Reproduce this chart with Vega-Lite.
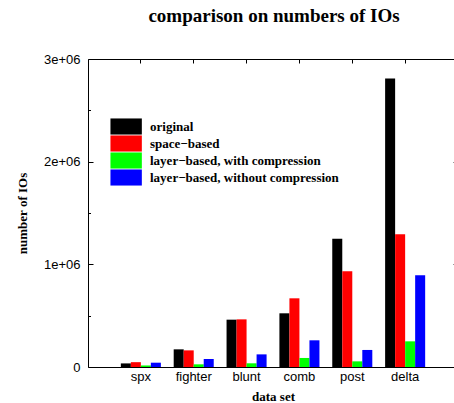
{
  "$schema": "https://vega.github.io/schema/vega-lite/v6.json",
  "width": 366,
  "height": 308,
  "autosize": {"type": "none"},
  "padding": {"left": 88, "top": 59, "right": 0, "bottom": 36},
  "background": "white",
  "title": {
    "text": "comparison on numbers of IOs",
    "font": "Liberation Serif",
    "fontSize": 19,
    "fontWeight": "bold",
    "color": "black",
    "anchor": "middle",
    "frame": "group",
    "baseline": "alphabetic",
    "offset": 12,
    "dx": 3
  },
  "config": {
    "view": {"stroke": null},
    "axis": {"grid": false, "domainColor": "black", "tickColor": "black", "domainWidth": 1, "tickWidth": 1}
  },
  "data": {
    "values": [
      {"set": "spx", "method": "original", "ios": 35000},
      {"set": "spx", "method": "space−based", "ios": 47000},
      {"set": "spx", "method": "layer−based, with compression", "ios": 15000},
      {"set": "spx", "method": "layer−based, without compression", "ios": 42000},
      {"set": "fighter", "method": "original", "ios": 172000},
      {"set": "fighter", "method": "space−based", "ios": 162000},
      {"set": "fighter", "method": "layer−based, with compression", "ios": 26000},
      {"set": "fighter", "method": "layer−based, without compression", "ios": 78000},
      {"set": "blunt", "method": "original", "ios": 461000},
      {"set": "blunt", "method": "space−based", "ios": 464000},
      {"set": "blunt", "method": "layer−based, with compression", "ios": 36000},
      {"set": "blunt", "method": "layer−based, without compression", "ios": 123000},
      {"set": "comb", "method": "original", "ios": 523000},
      {"set": "comb", "method": "space−based", "ios": 669000},
      {"set": "comb", "method": "layer−based, with compression", "ios": 88000},
      {"set": "comb", "method": "layer−based, without compression", "ios": 260000},
      {"set": "post", "method": "original", "ios": 1250000},
      {"set": "post", "method": "space−based", "ios": 932000},
      {"set": "post", "method": "layer−based, with compression", "ios": 55000},
      {"set": "post", "method": "layer−based, without compression", "ios": 166000},
      {"set": "delta", "method": "original", "ios": 2810000},
      {"set": "delta", "method": "space−based", "ios": 1292000},
      {"set": "delta", "method": "layer−based, with compression", "ios": 250000},
      {"set": "delta", "method": "layer−based, without compression", "ios": 893000}
    ]
  },
  "layer": [
    {
      "mark": {"type": "bar", "strokeWidth": 0},
      "encoding": {
        "x": {
          "field": "set",
          "type": "nominal",
          "sort": ["spx", "fighter", "blunt", "comb", "post", "delta"],
          "scale": {"range": [0, 370], "paddingInner": 0, "paddingOuter": 0.5},
          "axis": {
            "orient": "bottom",
            "title": "data set",
            "ticks": false,
            "labelAngle": 0,
            "labelFont": "Liberation Sans",
            "labelFontSize": 13,
            "labelColor": "black",
            "labelPadding": 3,
            "titleFont": "Liberation Serif",
            "titleFontSize": 13,
            "titleFontWeight": "bold",
            "titleColor": "black",
            "titleY": 29,
            "titleBaseline": "middle"
          }
        },
        "xOffset": {
          "field": "method",
          "type": "nominal",
          "sort": ["original", "space−based", "layer−based, with compression", "layer−based, without compression"],
          "scale": {"paddingInner": 0, "paddingOuter": 0.64}
        },
        "y": {
          "field": "ios",
          "type": "quantitative",
          "stack": null,
          "scale": {"domain": [0, 3000000], "nice": false, "zero": true},
          "axis": {
            "orient": "left",
            "values": [0, 500000, 1000000, 1500000, 2000000, 2500000, 3000000],
            "labelExpr": "datum.value % 1000000 == 0 ? (datum.value == 0 ? '0' : format(datum.value / 1000000, 'd') + 'e+06') : ''",
            "labelOverlap": false,
            "tickSize": {"condition": {"test": "datum.value % 1000000 == 0", "value": -5}, "value": -2.5},
            "labelFont": "Liberation Sans",
            "labelFontSize": 13,
            "labelColor": "black",
            "labelPadding": 13,
            "title": "number of IOs",
            "titleFont": "Liberation Serif",
            "titleFontSize": 13,
            "titleFontWeight": "bold",
            "titleColor": "black",
            "titleX": -66,
            "titleY": 154,
            "titleBaseline": "middle"
          }
        },
        "color": {
          "field": "method",
          "type": "nominal",
          "sort": ["original", "space−based", "layer−based, with compression", "layer−based, without compression"],
          "scale": {
            "domain": ["original", "space−based", "layer−based, with compression", "layer−based, without compression"],
            "range": ["#000000", "#ff0000", "#00ff00", "#0000ff"]
          },
          "legend": {
            "orient": "none",
            "legendX": 22,
            "legendY": 59,
            "title": null,
            "padding": 0,
            "rowPadding": 0,
            "symbolType": "M-1,-1H2.9V1H-1Z",
            "symbolSize": 259,
            "symbolStrokeWidth": 0,
            "symbolOpacity": 1,
            "labelFont": "Liberation Serif",
            "labelFontSize": 13,
            "labelFontWeight": "bold",
            "labelColor": "black",
            "labelOffset": 23,
            "labelLimit": 400
          }
        }
      }
    },
    {
      "mark": {"type": "bar", "opacity": 0},
      "encoding": {
        "x": {
          "field": "set",
          "type": "nominal",
          "sort": ["spx", "fighter", "blunt", "comb", "post", "delta"],
          "scale": {"range": [0, 370], "paddingInner": 0, "paddingOuter": 0.5},
          "axis": {"orient": "top", "labels": false, "title": null, "tickSize": -4}
        },
        "y": {
          "field": "ios",
          "type": "quantitative",
          "stack": null,
          "scale": {"domain": [0, 3000000], "nice": false, "zero": true},
          "axis": {
            "orient": "right",
            "values": [1000000, 2000000],
            "labels": false,
            "title": null,
            "domain": false,
            "tickSize": -1.5,
            "tickColor": "#999999"
          }
        }
      }
    }
  ],
  "resolve": {"axis": {"x": "independent", "y": "independent"}}
}
